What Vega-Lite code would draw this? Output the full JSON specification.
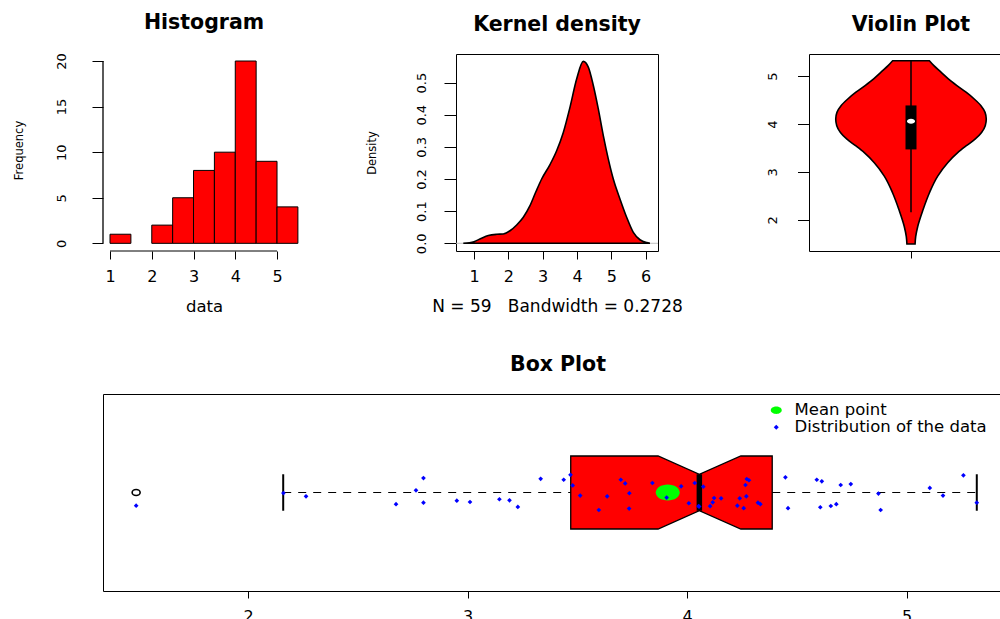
{
  "$schema": "https://vega.github.io/schema/vega-lite/v6.json",
  "autosize": {"type": "pad"},
  "padding": {"left": 13, "top": 13, "right": -13.5, "bottom": -6.5},
  "background": "white",
  "datasets": {
    "hist": [
      {"bin_start": 1.0, "bin_end": 1.5, "count": 1},
      {"bin_start": 2.0, "bin_end": 2.5, "count": 2},
      {"bin_start": 2.5, "bin_end": 3.0, "count": 5},
      {"bin_start": 3.0, "bin_end": 3.5, "count": 8},
      {"bin_start": 3.5, "bin_end": 4.0, "count": 10},
      {"bin_start": 4.0, "bin_end": 4.5, "count": 20},
      {"bin_start": 4.5, "bin_end": 5.0, "count": 9},
      {"bin_start": 5.0, "bin_end": 5.5, "count": 4}
    ],
    "dens": [
      {"x": 0.689, "density": 0.0},
      {"x": 1.0, "density": 0.005},
      {"x": 1.223, "density": 0.016},
      {"x": 1.417, "density": 0.024},
      {"x": 1.66, "density": 0.028},
      {"x": 1.854, "density": 0.029},
      {"x": 2.049, "density": 0.039},
      {"x": 2.243, "density": 0.057},
      {"x": 2.437, "density": 0.081},
      {"x": 2.631, "density": 0.117},
      {"x": 2.806, "density": 0.161},
      {"x": 2.971, "density": 0.2},
      {"x": 3.214, "density": 0.245},
      {"x": 3.408, "density": 0.288},
      {"x": 3.602, "density": 0.345},
      {"x": 3.796, "density": 0.423},
      {"x": 3.99, "density": 0.511},
      {"x": 4.184, "density": 0.566},
      {"x": 4.33, "density": 0.548},
      {"x": 4.476, "density": 0.491},
      {"x": 4.621, "density": 0.418},
      {"x": 4.767, "density": 0.335},
      {"x": 4.913, "density": 0.262},
      {"x": 5.058, "density": 0.2},
      {"x": 5.252, "density": 0.138},
      {"x": 5.447, "density": 0.081},
      {"x": 5.641, "density": 0.034},
      {"x": 5.835, "density": 0.011},
      {"x": 6.029, "density": 0.002},
      {"x": 6.126, "density": 0.0}
    ],
    "violin": [
      {"value": 1.496, "left": 0.98, "right": 1.02},
      {"value": 1.65, "left": 0.977, "right": 1.023},
      {"value": 1.861, "left": 0.967, "right": 1.033},
      {"value": 2.211, "left": 0.941, "right": 1.059},
      {"value": 2.561, "left": 0.91, "right": 1.09},
      {"value": 2.912, "left": 0.869, "right": 1.131},
      {"value": 3.192, "left": 0.82, "right": 1.18},
      {"value": 3.402, "left": 0.771, "right": 1.229},
      {"value": 3.542, "left": 0.73, "right": 1.27},
      {"value": 3.683, "left": 0.686, "right": 1.314},
      {"value": 3.823, "left": 0.654, "right": 1.346},
      {"value": 3.963, "left": 0.636, "right": 1.364},
      {"value": 4.103, "left": 0.631, "right": 1.369},
      {"value": 4.243, "left": 0.637, "right": 1.363},
      {"value": 4.383, "left": 0.657, "right": 1.343},
      {"value": 4.523, "left": 0.69, "right": 1.31},
      {"value": 4.664, "left": 0.73, "right": 1.27},
      {"value": 4.804, "left": 0.775, "right": 1.225},
      {"value": 4.944, "left": 0.817, "right": 1.183},
      {"value": 5.084, "left": 0.853, "right": 1.147},
      {"value": 5.224, "left": 0.889, "right": 1.111},
      {"value": 5.322, "left": 0.91, "right": 1.09}
    ],
    "stats": [
      {"lower_whisker": 2.16, "q1": 3.47, "notch_low": 3.868, "median": 4.056, "notch_high": 4.245, "q3": 4.388, "upper_whisker": 5.32}
    ],
    "notch": [
      {"x": 3.47, "top": 1.2, "bottom": 0.8},
      {"x": 3.868, "top": 1.2, "bottom": 0.8},
      {"x": 4.056, "top": 1.1, "bottom": 0.9},
      {"x": 4.245, "top": 1.2, "bottom": 0.8},
      {"x": 4.388, "top": 1.2, "bottom": 0.8}
    ],
    "points": [
      {"value": 1.49, "jitter": 0.928, "series": "Distribution of the data"},
      {"value": 2.161, "jitter": 0.997, "series": "Distribution of the data"},
      {"value": 2.264, "jitter": 0.979, "series": "Distribution of the data"},
      {"value": 2.674, "jitter": 0.936, "series": "Distribution of the data"},
      {"value": 2.765, "jitter": 1.012, "series": "Distribution of the data"},
      {"value": 2.799, "jitter": 1.079, "series": "Distribution of the data"},
      {"value": 2.799, "jitter": 0.944, "series": "Distribution of the data"},
      {"value": 2.951, "jitter": 0.955, "series": "Distribution of the data"},
      {"value": 3.011, "jitter": 0.948, "series": "Distribution of the data"},
      {"value": 3.145, "jitter": 0.963, "series": "Distribution of the data"},
      {"value": 3.191, "jitter": 0.957, "series": "Distribution of the data"},
      {"value": 3.229, "jitter": 0.921, "series": "Distribution of the data"},
      {"value": 3.333, "jitter": 1.075, "series": "Distribution of the data"},
      {"value": 3.438, "jitter": 1.07, "series": "Distribution of the data"},
      {"value": 3.469, "jitter": 1.097, "series": "Distribution of the data"},
      {"value": 3.479, "jitter": 1.039, "series": "Distribution of the data"},
      {"value": 3.513, "jitter": 0.983, "series": "Distribution of the data"},
      {"value": 3.598, "jitter": 0.904, "series": "Distribution of the data"},
      {"value": 3.636, "jitter": 0.979, "series": "Distribution of the data"},
      {"value": 3.698, "jitter": 1.07, "series": "Distribution of the data"},
      {"value": 3.718, "jitter": 1.05, "series": "Distribution of the data"},
      {"value": 3.737, "jitter": 0.996, "series": "Distribution of the data"},
      {"value": 3.736, "jitter": 0.912, "series": "Distribution of the data"},
      {"value": 3.842, "jitter": 1.052, "series": "Distribution of the data"},
      {"value": 3.907, "jitter": 0.972, "series": "Distribution of the data"},
      {"value": 3.973, "jitter": 1.034, "series": "Distribution of the data"},
      {"value": 4.008, "jitter": 0.941, "series": "Distribution of the data"},
      {"value": 4.035, "jitter": 1.052, "series": "Distribution of the data"},
      {"value": 4.052, "jitter": 0.925, "series": "Distribution of the data"},
      {"value": 4.055, "jitter": 0.923, "series": "Distribution of the data"},
      {"value": 4.074, "jitter": 1.032, "series": "Distribution of the data"},
      {"value": 4.105, "jitter": 0.925, "series": "Distribution of the data"},
      {"value": 4.117, "jitter": 0.946, "series": "Distribution of the data"},
      {"value": 4.123, "jitter": 0.97, "series": "Distribution of the data"},
      {"value": 4.155, "jitter": 0.968, "series": "Distribution of the data"},
      {"value": 4.229, "jitter": 0.928, "series": "Distribution of the data"},
      {"value": 4.24, "jitter": 0.968, "series": "Distribution of the data"},
      {"value": 4.258, "jitter": 0.914, "series": "Distribution of the data"},
      {"value": 4.266, "jitter": 1.041, "series": "Distribution of the data"},
      {"value": 4.27, "jitter": 0.979, "series": "Distribution of the data"},
      {"value": 4.272, "jitter": 1.074, "series": "Distribution of the data"},
      {"value": 4.282, "jitter": 1.067, "series": "Distribution of the data"},
      {"value": 4.323, "jitter": 0.944, "series": "Distribution of the data"},
      {"value": 4.334, "jitter": 0.936, "series": "Distribution of the data"},
      {"value": 4.448, "jitter": 1.083, "series": "Distribution of the data"},
      {"value": 4.46, "jitter": 0.914, "series": "Distribution of the data"},
      {"value": 4.591, "jitter": 1.07, "series": "Distribution of the data"},
      {"value": 4.607, "jitter": 0.919, "series": "Distribution of the data"},
      {"value": 4.614, "jitter": 1.061, "series": "Distribution of the data"},
      {"value": 4.655, "jitter": 0.926, "series": "Distribution of the data"},
      {"value": 4.68, "jitter": 0.936, "series": "Distribution of the data"},
      {"value": 4.7, "jitter": 1.041, "series": "Distribution of the data"},
      {"value": 4.746, "jitter": 1.046, "series": "Distribution of the data"},
      {"value": 4.872, "jitter": 0.994, "series": "Distribution of the data"},
      {"value": 4.882, "jitter": 0.904, "series": "Distribution of the data"},
      {"value": 5.106, "jitter": 1.025, "series": "Distribution of the data"},
      {"value": 5.166, "jitter": 0.983, "series": "Distribution of the data"},
      {"value": 5.259, "jitter": 1.094, "series": "Distribution of the data"},
      {"value": 5.32, "jitter": 0.944, "series": "Distribution of the data"}
    ],
    "mean": [{"mean": 3.912, "series": "Mean point"}],
    "outliers": [{"outlier": 1.49}]
  },
  "bounds": "flush",
  "spacing": 340,
  "vconcat": [
    {
      "bounds": "flush",
      "spacing": 151,
      "hconcat": [
        {
          "width": 202,
          "height": 197,
          "view": {"stroke": null},
          "title": "Histogram",
          "layer": [
            {
              "data": {"name": "hist"},
              "mark": {"type": "rect", "fill": "#FF0000", "stroke": "black", "strokeWidth": 1},
              "encoding": {
                "x": {"field": "bin_start", "type": "quantitative",
                      "scale": {"domain": [0.832, 5.67], "nice": false, "zero": false},
                      "axis": {"values": [1, 2, 3, 4, 5], "format": "d", "tickSize": 8, "labelFontSize": 16, "labelBaseline": "middle", "labelPadding": 17,
                               "title": "data", "titleFontSize": 16.5, "titleBaseline": "alphabetic", "titleAlign": "center", "titleX": 101, "titleY": 60}},
                "x2": {"field": "bin_end"},
                "y": {"field": "count", "type": "quantitative",
                      "scale": {"domain": [-0.84, 20.77], "nice": false, "zero": false},
                      "axis": {"values": [0, 5, 10, 15, 20], "format": "d", "tickSize": 11, "labelAngle": 270, "labelAlign": "center", "labelBaseline": "middle", "labelPadding": 31, "labelFontSize": 13,
                               "title": "Frequency", "titleFontSize": 11.5, "titleAngle": 270, "titleBaseline": "middle", "titleAlign": "center", "titleX": -84, "titleY": 96}},
                "y2": {"datum": 0}
              }
            },
            {
              "data": {"values": [{}]},
              "mark": {"type": "rule", "color": "black", "strokeWidth": 1},
              "encoding": {
                "x": {"datum": 1, "type": "quantitative"},
                "x2": {"datum": 5},
                "y": {"datum": -0.84, "type": "quantitative"}
              }
            },
            {
              "data": {"values": [{}]},
              "mark": {"type": "rule", "color": "black", "strokeWidth": 1.3},
              "encoding": {
                "x": {"datum": 0.832, "type": "quantitative"},
                "y": {"datum": 0, "type": "quantitative"},
                "y2": {"datum": 20}
              }
            }
          ]
        },
        {
          "width": 202,
          "height": 197,
          "title": "Kernel density",
          "layer": [
            {
              "data": {"values": [{}]},
              "mark": {"type": "rule", "color": "#BEBEBE", "strokeWidth": 1},
              "encoding": {
                "y": {"datum": 0, "type": "quantitative",
                      "scale": {"domain": [-0.024, 0.589], "nice": false, "zero": false},
                      "axis": {"values": [0, 0.1, 0.2, 0.3, 0.4, 0.5], "format": ".1f", "tickSize": 12, "labelAngle": 270, "labelAlign": "center", "labelBaseline": "middle", "labelPadding": 23, "labelFontSize": 13,
                               "title": "Density", "titleFontSize": 11.5, "titleAngle": 270, "titleBaseline": "middle", "titleAlign": "center", "titleX": -83.5, "titleY": 98.5}}
              }
            },
            {
              "data": {"name": "dens"},
              "mark": {"type": "area", "fill": "#FF0000", "stroke": "black", "strokeWidth": 1.6, "interpolate": "monotone"},
              "encoding": {
                "x": {"field": "x", "type": "quantitative",
                      "scale": {"domain": [0.476, 6.36], "nice": false, "zero": false},
                      "axis": {"values": [1, 2, 3, 4, 5, 6], "format": "d", "tickSize": 8, "labelFontSize": 16, "labelBaseline": "middle", "labelPadding": 17,
                               "title": "N = 59\u00a0\u00a0\u00a0Bandwidth = 0.2728", "titleLimit": 400, "titleFontSize": 17, "titleBaseline": "alphabetic", "titleAlign": "center", "titleX": 101, "titleY": 60}},
                "y": {"field": "density", "type": "quantitative",
                      "axis": {"values": [0, 0.1, 0.2, 0.3, 0.4, 0.5], "format": ".1f", "tickSize": 12, "labelAngle": 270, "labelAlign": "center", "labelBaseline": "middle", "labelPadding": 23, "labelFontSize": 13,
                               "title": "Density", "titleFontSize": 11.5, "titleAngle": 270, "titleBaseline": "middle", "titleAlign": "center", "titleX": -83.5, "titleY": 98.5}}
              }
            }
          ]
        },
        {
          "width": 204,
          "height": 197,
          "title": "Violin Plot",
          "layer": [
            {
              "data": {"name": "violin"},
              "mark": {"type": "area", "orient": "horizontal", "fill": "#FF0000", "stroke": "black", "strokeWidth": 1.6, "interpolate": "monotone"},
              "encoding": {
                "y": {"field": "value", "type": "quantitative",
                      "scale": {"domain": [1.349, 5.462], "nice": false, "zero": false},
                      "axis": {"values": [2, 3, 4, 5], "format": "d", "tickSize": 11.5, "labelAngle": 270, "labelAlign": "center", "labelBaseline": "middle", "labelPadding": 25.5, "labelFontSize": 13, "title": null}},
                "x": {"field": "left", "type": "quantitative",
                      "scale": {"domain": [0.5, 1.5], "nice": false, "zero": false},
                      "axis": {"values": [1], "tickSize": 7, "labels": false, "title": null}},
                "x2": {"field": "right"}
              }
            },
            {
              "data": {"name": "stats"},
              "mark": {"type": "rule", "color": "black", "strokeWidth": 1.5},
              "encoding": {
                "x": {"datum": 1, "type": "quantitative"},
                "y": {"field": "lower_whisker", "type": "quantitative"},
                "y2": {"field": "upper_whisker"}
              }
            },
            {
              "data": {"name": "stats"},
              "mark": {"type": "rule", "color": "black", "strokeWidth": 11, "strokeCap": "butt"},
              "encoding": {
                "x": {"datum": 1, "type": "quantitative"},
                "y": {"field": "q1", "type": "quantitative"},
                "y2": {"field": "q3"}
              }
            },
            {
              "data": {"name": "stats"},
              "mark": {"type": "point", "filled": true, "color": "white", "opacity": 1, "size": 64, "shape": "M -1 0 A 1 0.625 0 1 0 1 0 A 1 0.625 0 1 0 -1 0 Z"},
              "encoding": {
                "x": {"datum": 1, "type": "quantitative"},
                "y": {"field": "median", "type": "quantitative"}
              }
            }
          ]
        }
      ]
    },
    {
      "width": 910,
      "height": 197,
      "title": "Box Plot",
      "layer": [
        {
          "data": {"name": "notch"},
          "mark": {"type": "area", "fill": "#FF0000", "stroke": "black", "strokeWidth": 1.3, "interpolate": "linear"},
          "encoding": {
            "x": {"field": "x", "type": "quantitative",
                  "scale": {"domain": [1.339, 5.485], "nice": false, "zero": false},
                  "axis": {"values": [2, 3, 4, 5], "format": "d", "tickSize": 7, "labelFontSize": 16, "labelBaseline": "middle", "labelPadding": 18.5, "title": null}},
            "y": {"field": "top", "type": "quantitative",
                  "scale": {"domain": [0.46, 1.54], "nice": false, "zero": false},
                  "axis": null},
            "y2": {"field": "bottom"}
          }
        },
        {
          "data": {"name": "stats"},
          "mark": {"type": "rule", "color": "black", "strokeWidth": 1, "strokeDash": [8, 7]},
          "encoding": {
            "x": {"field": "lower_whisker", "type": "quantitative"},
            "x2": {"field": "q1"},
            "y": {"datum": 1, "type": "quantitative"}
          }
        },
        {
          "data": {"name": "stats"},
          "mark": {"type": "rule", "color": "black", "strokeWidth": 1, "strokeDash": [8, 7]},
          "encoding": {
            "x": {"field": "q3", "type": "quantitative"},
            "x2": {"field": "upper_whisker"},
            "y": {"datum": 1, "type": "quantitative"}
          }
        },
        {
          "data": {"name": "stats"},
          "mark": {"type": "rule", "color": "black", "strokeWidth": 2},
          "encoding": {
            "x": {"field": "lower_whisker", "type": "quantitative"},
            "y": {"datum": 0.9, "type": "quantitative"},
            "y2": {"datum": 1.1}
          }
        },
        {
          "data": {"name": "stats"},
          "mark": {"type": "rule", "color": "black", "strokeWidth": 2},
          "encoding": {
            "x": {"field": "upper_whisker", "type": "quantitative"},
            "y": {"datum": 0.9, "type": "quantitative"},
            "y2": {"datum": 1.1}
          }
        },
        {
          "data": {"name": "stats"},
          "mark": {"type": "rule", "color": "black", "strokeWidth": 5.5, "strokeCap": "butt"},
          "encoding": {
            "x": {"field": "median", "type": "quantitative"},
            "y": {"datum": 0.9, "type": "quantitative"},
            "y2": {"datum": 1.1}
          }
        },
        {
          "data": {"name": "outliers"},
          "mark": {"type": "point", "filled": false, "stroke": "black", "strokeWidth": 1.6, "opacity": 1, "size": 64, "shape": "M -1 0 A 1 0.75 0 1 0 1 0 A 1 0.75 0 1 0 -1 0 Z"},
          "encoding": {
            "x": {"field": "outlier", "type": "quantitative"},
            "y": {"datum": 1, "type": "quantitative"}
          }
        },
        {
          "data": {"name": "mean"},
          "mark": {"type": "point", "filled": true, "opacity": 1, "size": 576, "shape": "M -1 0 A 1 0.667 0 1 0 1 0 A 1 0.667 0 1 0 -1 0 Z"},
          "encoding": {
            "x": {"field": "mean", "type": "quantitative"},
            "y": {"datum": 1, "type": "quantitative"},
            "color": {"field": "series", "type": "nominal",
                      "scale": {"domain": ["Mean point", "Distribution of the data"], "range": ["#00FF00", "#0000FF"]},
                      "legend": {"title": null, "orient": "none", "legendX": 665, "legendY": 348, "padding": 0,
                                 "labelFontSize": 16.5, "labelFont": "DejaVu Sans", "labelColor": "black", "labelOffset": 10, "labelLimit": 0, "rowPadding": 0,
                                 "symbolStrokeWidth": 0, "symbolOpacity": 1,
                                 "encode": {"symbols": {"update": {
                                   "shape": {"signal": "datum.value === 'Mean point' ? 'M -1 0 A 1 0.667 0 1 0 1 0 A 1 0.667 0 1 0 -1 0 Z' : 'diamond'"},
                                   "size": {"signal": "datum.value === 'Mean point' ? 121 : 25"}}}}}}
          }
        },
        {
          "data": {"name": "points"},
          "mark": {"type": "point", "filled": true, "opacity": 1, "size": 22, "shape": "diamond"},
          "encoding": {
            "x": {"field": "value", "type": "quantitative"},
            "y": {"field": "jitter", "type": "quantitative"},
            "color": {"field": "series", "type": "nominal",
                      "scale": {"domain": ["Mean point", "Distribution of the data"], "range": ["#00FF00", "#0000FF"]}}
          }
        }
      ]
    }
  ],
  "config": {
    "font": "DejaVu Sans",
    "view": {"stroke": "black", "strokeWidth": 1},
    "axis": {"grid": false, "domain": false, "tickColor": "black", "tickWidth": 1, "labelColor": "black", "titleColor": "black",
             "titleFontWeight": "normal", "labelFlush": false, "labelOverlap": false, "labelFont": "DejaVu Sans", "titleFont": "DejaVu Sans"},
    "title": {"fontSize": 20.5, "fontWeight": "bold", "font": "DejaVu Sans", "color": "black", "anchor": "middle", "frame": "group", "offset": 19, "baseline": "alphabetic"}
  }
}
